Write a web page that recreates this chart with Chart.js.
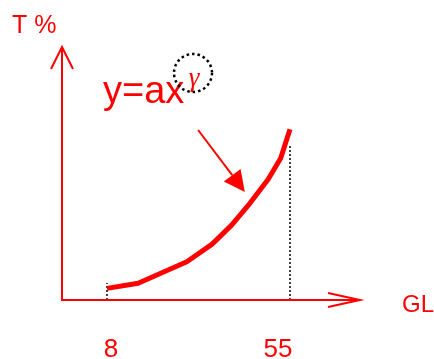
<!DOCTYPE html>
<html>
<head>
<meta charset="utf-8">
<script src="https://cdn.jsdelivr.net/npm/chart.js@4/dist/chart.umd.min.js"></script>
<style>
  html, body { margin: 0; padding: 0; background: #fff; }
  #wrap { width: 434px; height: 359px; position: relative; }
</style>
</head>
<body>
<div id="wrap"><canvas id="chart"></canvas></div>
<script>
// curve y = a x^gamma
const glValues = [8, 16, 28.5, 35, 40, 44.7, 49.4, 52.6, 55];
const tValues = [4.6, 6.6, 15.1, 22.1, 29.6, 38.2, 47.7, 56.0, 67.5];

// dotted markers at both ends of the curve
const markerGL = [8, 55];
const markerTop = [6.7, 61.3];

// tick labels under the x axis
const tickValues = [8, 55];
const tickLabels = ['8', '55'];

// pointer arrow, from -> to (data units)
const arrowFrom = [31.4, 67.2];
const arrowTo = [43.4, 42.7];

const RED = '#ff0000';
const FONT = "'Liberation Sans', Arial, sans-serif";

const curve = glValues.map((x, i) => ({ x: x, y: tValues[i] }));

const markerSets = markerGL.map((x, i) => ({
    data: [{ x: x, y: 0 }, { x: x, y: markerTop[i] }],
    showLine: true,
    borderColor: '#000',
    borderWidth: 1.5,
    borderDash: [2, 2],
    pointRadius: 0
}));

const decor = {
    id: 'decor',
    afterDraw(chart) {
        const ctx = chart.ctx;
        const xs = chart.scales.x, ys = chart.scales.y;
        const a = chart.chartArea;
        ctx.save();
        ctx.strokeStyle = RED;
        ctx.fillStyle = RED;
        ctx.lineWidth = 2;
        ctx.lineCap = 'butt';

        // axes
        ctx.beginPath();
        ctx.moveTo(a.left, a.top);
        ctx.lineTo(a.left, a.bottom);
        ctx.lineTo(a.right, a.bottom);
        ctx.stroke();

        // open arrow heads
        ctx.beginPath();
        ctx.moveTo(a.left - 11, a.top + 22);
        ctx.lineTo(a.left, a.top);
        ctx.lineTo(a.left + 11, a.top + 22);
        ctx.moveTo(a.right - 32, a.bottom - 7);
        ctx.lineTo(a.right, a.bottom);
        ctx.lineTo(a.right - 32, a.bottom + 7);
        ctx.stroke();

        // pointer arrow
        const x1 = xs.getPixelForValue(arrowFrom[0]), y1 = ys.getPixelForValue(arrowFrom[1]);
        const x2 = xs.getPixelForValue(arrowTo[0]), y2 = ys.getPixelForValue(arrowTo[1]);
        const ang = Math.atan2(y2 - y1, x2 - x1);
        const len = 21, half = 10.5;
        const bx = x2 - len * Math.cos(ang), by = y2 - len * Math.sin(ang);
        ctx.beginPath();
        ctx.moveTo(x1, y1);
        ctx.lineTo(bx, by);
        ctx.stroke();
        ctx.beginPath();
        ctx.moveTo(x2, y2);
        ctx.lineTo(bx + half * Math.sin(ang), by - half * Math.cos(ang));
        ctx.lineTo(bx - half * Math.sin(ang), by + half * Math.cos(ang));
        ctx.closePath();
        ctx.fill();

        // texts
        ctx.textBaseline = 'alphabetic';
        ctx.textAlign = 'left';
        ctx.font = '25px ' + FONT;
        ctx.fillText('T %', 12, 33);
        ctx.font = '38px ' + FONT;
        ctx.fillText('y=ax', 103, 103);
        ctx.font = '24px ' + FONT;
        ctx.fillText('GL', 402, 312);

        ctx.font = '26px ' + FONT;
        ctx.textAlign = 'center';
        const nudge = [4, -12];
        tickValues.forEach((v, i) => {
            ctx.fillText(tickLabels[i], xs.getPixelForValue(v) + nudge[i], 357);
        });

        // exponent gamma in dotted circle
        ctx.font = 'italic 27px "Liberation Serif", "DejaVu Serif", serif';
        ctx.fillText('\u03B3', 194, 86);
        ctx.strokeStyle = '#000';
        ctx.lineWidth = 2.5;
        ctx.setLineDash([2.5, 3]);
        ctx.beginPath();
        ctx.arc(193, 73, 19, 0, Math.PI * 2);
        ctx.stroke();
        ctx.restore();
    }
};

new Chart(document.getElementById('chart'), {
    type: 'scatter',
    data: {
        datasets: [{
            data: curve,
            showLine: true,
            borderColor: RED,
            borderWidth: 5,
            tension: 0,
            pointRadius: 0,
            borderJoinStyle: 'round'
        }].concat(markerSets)
    },
    options: {
        responsive: true,
        maintainAspectRatio: false,
        animation: false,
        layout: { padding: { left: 62, right: 74, top: 47, bottom: 59 } },
        plugins: { legend: { display: false }, tooltip: { enabled: false } },
        scales: {
            x: { type: 'linear', min: -3.56, max: 72.98, display: false },
            y: { type: 'linear', min: 0, max: 100, display: false }
        }
    },
    plugins: [decor]
});
</script>
</body>
</html>
